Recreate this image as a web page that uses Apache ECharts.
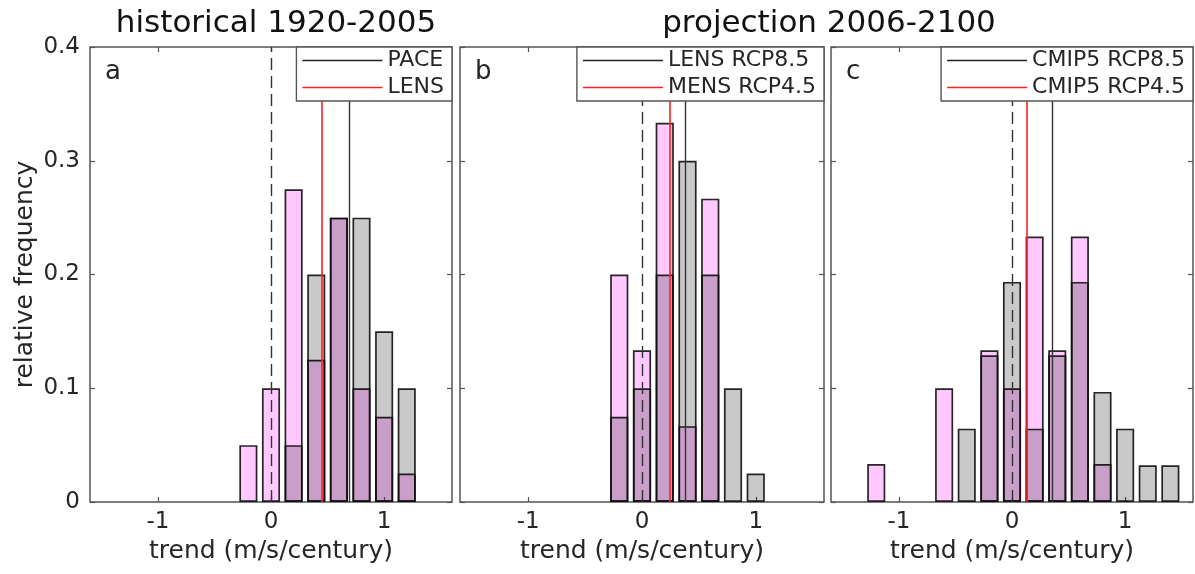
<!DOCTYPE html>
<html>
<head>
<meta charset="utf-8">
<script src="https://cdn.jsdelivr.net/npm/echarts@6/dist/echarts.min.js"></script>
<style>
html,body{margin:0;padding:0;background:#fff;}
#chart{width:1195px;height:574px;}
</style>
</head>
<body>
<div id="chart"></div>
<script>
// ---- data ----
const panelTitles = ['historical 1920-2005', 'projection 2006-2100'];
const panelLetters = ['a', 'b', 'c'];
const xTickValues = [-1, 0, 1];
const yTickValues = [0, 0.1, 0.2, 0.3, 0.4];

const binsA = [-0.2, 0, 0.2, 0.4, 0.6, 0.8, 1.0, 1.2];
const paceA = [0, 0, 0.05, 0.2, 0.25, 0.25, 0.15, 0.1];
const lensA = [0.05, 0.1, 0.275, 0.125, 0.25, 0.1, 0.075, 0.025];
const meanPaceA = 0.69;
const meanLensA = 0.445;

const binsB = [-0.2, 0, 0.2, 0.4, 0.6, 0.8, 1.0];
const lens85B = [0.075, 0.1, 0.2, 0.3, 0.2, 0.1, 0.025];
const mens45B = [0.2, 0.1333, 0.3333, 0.0667, 0.2667, 0, 0];
const meanLens85B = 0.383;
const meanMens45B = 0.236;

const binsC = [-1.2, -1.0, -0.8, -0.6, -0.4, -0.2, 0, 0.2, 0.4, 0.6, 0.8, 1.0, 1.2, 1.4];
const cmip85C = [0, 0, 0, 0, 0.0645, 0.129, 0.1935, 0.0645, 0.129, 0.1935, 0.0968, 0.0645, 0.0323, 0.0323];
const cmip45C = [0.0333, 0, 0, 0.1, 0, 0.1333, 0.1, 0.2333, 0.1333, 0.2333, 0.0333, 0, 0, 0];
const meanCmip85C = 0.36;
const meanCmip45C = 0.13;

const legendNames = [['PACE', 'LENS'], ['LENS RCP8.5', 'MENS RCP4.5'], ['CMIP5 RCP8.5', 'CMIP5 RCP4.5']];

// ---- styling / layout ----
const FONT = 'DejaVu Sans';
const TXT = '#262626';
const FRAME = '#555555';
const grids = [
  {left: 90, top: 47, width: 362, height: 455},
  {left: 460, top: 47, width: 364, height: 455},
  {left: 831, top: 47, width: 362, height: 455}
];
const panels = [
  {bins: binsA, black: paceA, red: lensA, mBlack: meanPaceA, mRed: meanLensA},
  {bins: binsB, black: lens85B, red: mens45B, mBlack: meanLens85B, mRed: meanMens45B},
  {bins: binsC, black: cmip85C, red: cmip45C, mBlack: meanCmip85C, mRed: meanCmip45C}
];

function toData(bins, vals) {
  return bins.map((x, i) => [x, vals[i]]).filter(d => d[1] > 0);
}

const xAxes = [], yAxes = [], series = [], legends = [], graphics = [];
panels.forEach((p, i) => {
  const common = {gridIndex: i, type: 'value', min: -1.6, max: 1.6,
    splitLine: {show: false}, axisLine: {show: false, onZero: false}};
  xAxes.push(Object.assign({}, common, {
    position: 'bottom',
    axisTick: {show: true, inside: true, length: 5, lineStyle: {color: FRAME, width: 1.2}, customValues: xTickValues},
    axisLabel: {show: true, customValues: xTickValues, fontFamily: FONT, fontSize: 23, color: TXT, margin: 9,
      formatter: v => String(v)},
    name: 'trend (m/s/century)', nameLocation: 'middle', nameGap: 33,
    nameTextStyle: {fontFamily: FONT, fontSize: 25, color: TXT}
  }));
  xAxes.push(Object.assign({}, common, {
    position: 'top',
    axisTick: {show: true, inside: true, length: 5, lineStyle: {color: FRAME, width: 1.2}, customValues: xTickValues},
    axisLabel: {show: false}
  }));
  const ycommon = {gridIndex: i, type: 'value', min: 0, max: 0.4, interval: 0.1,
    splitLine: {show: false}, axisLine: {show: false, onZero: false},
    axisTick: {show: true, inside: true, length: 5, lineStyle: {color: FRAME, width: 1.2}}};
  yAxes.push(Object.assign({}, ycommon, {
    position: 'left',
    axisLabel: {show: i === 0, fontFamily: FONT, fontSize: 23, color: TXT, margin: 10,
      formatter: v => (v === 0 ? '0' : v.toFixed(1))},
    name: i === 0 ? 'relative frequency' : '', nameLocation: 'middle', nameGap: 52, nameRotate: 90,
    nameTextStyle: {fontFamily: FONT, fontSize: 25, color: TXT}
  }));
  yAxes.push(Object.assign({}, ycommon, {position: 'right', axisLabel: {show: false}}));

  const xi = 2 * i, yi = 2 * i;
  series.push({
    type: 'bar', name: 'hist-red-' + i, xAxisIndex: xi, yAxisIndex: yi,
    data: toData(p.bins, p.red), barWidth: '80%', barGap: '-100%',
    itemStyle: {color: 'rgba(255,0,255,0.21)', borderColor: 'rgba(15,15,15,0.9)', borderWidth: 1.7},
    silent: true, z: 2
  });
  series.push({
    type: 'bar', name: 'hist-black-' + i, xAxisIndex: xi, yAxisIndex: yi,
    data: toData(p.bins, p.black), barWidth: '80%', barGap: '-100%',
    itemStyle: {color: 'rgba(0,0,0,0.21)', borderColor: 'rgba(15,15,15,0.9)', borderWidth: 1.7},
    silent: true, z: 2
  });
  series.push({
    type: 'line', name: legendNames[i][0], xAxisIndex: xi, yAxisIndex: yi, data: [],
    color: '#222', lineStyle: {color: '#222'}, showSymbol: false, z: 3,
    markLine: {silent: true, symbol: ['none', 'none'], label: {show: false}, animation: false,
      data: [
        {xAxis: 0, lineStyle: {color: '#333', width: 1.4, type: [12, 6]}},
        {xAxis: p.mBlack, lineStyle: {color: '#333', width: 1.4, type: 'solid'}}
      ]}
  });
  series.push({
    type: 'line', name: legendNames[i][1], xAxisIndex: xi, yAxisIndex: yi, data: [],
    color: '#ff2020', lineStyle: {color: '#ff2020'}, showSymbol: false, z: 3,
    markLine: {silent: true, symbol: ['none', 'none'], label: {show: false}, animation: false,
      data: [{xAxis: p.mRed, lineStyle: {color: '#ff2020', width: 1.6, type: 'solid'}}]}
  });

  const g = grids[i];
  legends.push({
    data: [
      {name: legendNames[i][0], icon: 'rect', itemStyle: {color: '#222', borderWidth: 0}},
      {name: legendNames[i][1], icon: 'rect', itemStyle: {color: '#ff2020', borderWidth: 0}}
    ],
    orient: 'vertical', right: 1195 - (g.left + g.width), top: g.top,
    itemWidth: 80, itemHeight: 1.5, itemGap: 2,
    padding: [1, 8, 1, 6],
    backgroundColor: '#fff', borderColor: FRAME, borderWidth: 1.4, borderRadius: 0,
    selectedMode: false, z: 10,
    textStyle: {fontFamily: FONT, fontSize: 22, color: TXT, lineHeight: 25, padding: [0, 0, 0, 0]}
  });
  graphics.push({
    type: 'text', left: g.left + 15, top: g.top + 12, z: 20,
    style: {text: panelLetters[i], font: '26px "DejaVu Sans"', fill: TXT}
  });
});

const option = {
  animation: false,
  backgroundColor: '#ffffff',
  title: [
    {text: panelTitles[0], left: grids[0].left + grids[0].width / 2, top: 3, textAlign: 'center',
      textStyle: {fontFamily: FONT, fontSize: 31, fontWeight: 'normal', color: '#111'}},
    {text: panelTitles[1], left: grids[1].left + grids[1].width, top: 3, textAlign: 'center',
      textStyle: {fontFamily: FONT, fontSize: 31, fontWeight: 'normal', color: '#111'}}
  ],
  grid: grids.map(g => Object.assign({show: true, borderColor: FRAME, borderWidth: 1.5, backgroundColor: 'transparent'}, g)),
  xAxis: xAxes,
  yAxis: yAxes,
  legend: legends,
  series: series,
  graphic: graphics
};

const chart = echarts.init(document.getElementById('chart'), null, {renderer: 'canvas'});
chart.setOption(option);
</script>
</body>
</html>
